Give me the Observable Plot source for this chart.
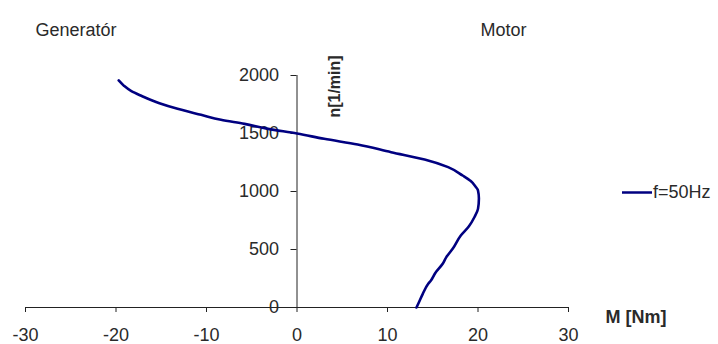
<!DOCTYPE html>
<html><head><meta charset="utf-8">
<script src="https://cdn.jsdelivr.net/npm/d3@7"></script>
<script src="https://cdn.jsdelivr.net/npm/@observablehq/plot@0.6"></script>
<style>body{margin:0;background:#fff} #wrap{position:relative;width:718px;height:344px}</style>
</head><body><div id="wrap"></div>
<script>
// Torque M [Nm] vs speed n [1/min]
const torque = [-19.7, -19.1, -18.3, -17.2, -15.2, -13.2, -10.6, -8.4, -5.8, -3.2, 0.0, 3.0, 6.7, 10.4, 14.1, 16.7, 18.3, 19.2, 19.7, 20.0, 20.1, 20.0, 19.6, 19.0, 18.1, 17.2, 16.5, 16.1, 15.3, 14.8, 14.5, 13.9, 13.5, 13.2];
const speed  = [1957, 1910, 1865, 1825, 1761, 1713, 1661, 1618, 1583, 1540, 1500, 1454, 1405, 1339, 1276, 1210, 1138, 1090, 1045, 1009, 940, 850, 778, 700, 621, 506, 434, 377, 300, 233, 204, 118, 50, 0];
const xTicks = [-30, -20, -10, 0, 10, 20, 30];
const yTicks = [0, 500, 1000, 1500, 2000];
const seriesName = "f=50Hz";
const xLabel = "M [Nm]";
const yLabel = "n[1/min]";
const leftNote = "Generatór";
const rightNote = "Motor";

const data = torque.map((M, i) => ({M, n: speed[i]}));
const lineColor = "#000080";
const textColor = "#2a2a2a";

const legendMark = (index, scales, values, dims) => {
  const g = d3.create("svg:g");
  const x0 = dims.width - dims.marginRight;
  const yc = scales.y(1000) + 1.5;
  g.append("line").attr("x1", x0 + 54).attr("x2", x0 + 84).attr("y1", yc).attr("y2", yc)
    .attr("stroke", lineColor).attr("stroke-width", 2.5);
  g.append("text").attr("x", x0 + 85).attr("y", yc).attr("dy", "0.32em")
    .attr("text-anchor", "start").attr("fill", textColor).attr("font-size", 18).text(seriesName);
  return g.node();
};

const fmt = d => String(d);

const chart = Plot.plot({
  width: 718, height: 344,
  marginLeft: 25, marginRight: 150, marginTop: 75, marginBottom: 37,
  style: {fontFamily: "'Liberation Sans', Arial, sans-serif", fontSize: "18px", color: textColor, background: "#fff"},
  x: {domain: [-30, 30]},
  y: {domain: [0, 2000]},
  marks: [
    Plot.ruleY([0], {stroke: "#222"}),
    Plot.ruleX([0], {stroke: "#222"}),
    Plot.axisX(xTicks, {tickSize: 5, tickPadding: 16, stroke: "#222", tickFormat: fmt, fontSize: 18, label: null}),
    Plot.axisY(yTicks, {x: 0, tickSize: 6, tickPadding: 12, stroke: "#222", tickFormat: fmt, fontSize: 18, label: null}),
    Plot.line(data, {x: "M", y: "n", stroke: lineColor, strokeWidth: 2.6, curve: "monotone-y"}),
    Plot.text([leftNote], {text: d => d, frameAnchor: "top-left", dx: 10, dy: -52, textAnchor: "start", fontSize: 18}),
    Plot.text([rightNote], {text: d => d, frameAnchor: "top-left", dx: 455, dy: -52, textAnchor: "start", fontSize: 18}),
    Plot.text([yLabel], {text: d => d, frameAnchor: "top-left", dx: 303, dy: 11, rotate: -90, fontSize: 16, fontWeight: "bold", textAnchor: "middle", letterSpacing: "1px"}),
    Plot.text([xLabel], {text: d => d, frameAnchor: "bottom-right", dx: 37, dy: 15, textAnchor: "start", fontSize: 18, fontWeight: "bold"}),
    legendMark
  ]
});
document.getElementById("wrap").appendChild(chart);
</script>
</body></html>
